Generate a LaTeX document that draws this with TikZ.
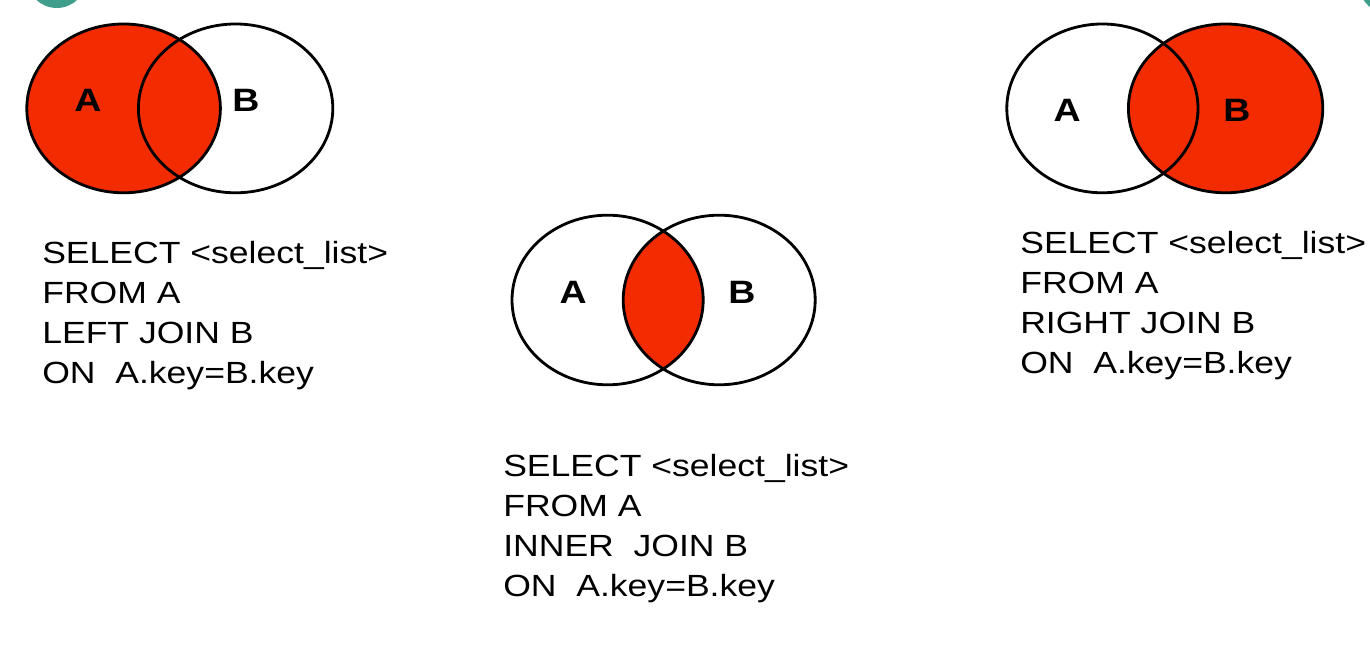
\documentclass[tikz,border=0pt]{standalone}
\usepackage{fontspec}
\setmainfont{Liberation Sans}
\newfontfamily\sqlfont[FakeStretch=1.16]{Liberation Sans}
\usetikzlibrary{positioning}
\definecolor{joinred}{HTML}{F32B00}
\definecolor{corner}{HTML}{3F9F8C}

\begin{document}
\begin{tikzpicture}[
      set/.style={draw=black, line width=2pt},
      setlabel/.style={font=\sqlfont\bfseries\fontsize{23}{26}\selectfont, inner sep=0pt},
      sql/.style={font=\sqlfont\fontsize{21.8}{28.45}\selectfont, align=left,
                  inner sep=0pt, anchor=north west}]
    \useasboundingbox (0,0) rectangle (34.25,16.2);
    % screen corners
    \begin{scope}
      \clip (0,0) rectangle (34.25,16.2);
      \fill[corner] (1.42,16.75) circle (0.75);
      \fill[corner] (35.0,16.85) circle (1.12);
    \end{scope}
    % left join
    \fill[joinred] (3.09,13.49) ellipse (2.42 and 2.11);
    \draw[set] (3.09,13.49) ellipse (2.42 and 2.11);
    \draw[set] (5.89,13.49) ellipse (2.43 and 2.11);
    \node[setlabel] (la) at (2.2,13.7) {A};
    \node[setlabel] (lb) at (6.15,13.68) {B};
    \node[sql] (lq) at (1.05,10.17)
      {SELECT {<}select\_list{>}\\FROM A\\LEFT JOIN B\\ON\ \ A.key=B.key};
    % inner join
    \begin{scope}
      \clip (15.19,8.7) ellipse (2.39 and 2.12);
      \fill[joinred] (17.98,8.7) ellipse (2.4 and 2.12);
    \end{scope}
    \draw[set] (15.19,8.7) ellipse (2.39 and 2.12);
    \draw[set] (17.98,8.7) ellipse (2.4 and 2.12);
    \node[setlabel] (ma) at (14.33,8.9) {A};
    \node[setlabel] (mb) at (18.55,8.9) {B};
    \node[sql] (mq) at (12.575,4.85)
      {SELECT {<}select\_list{>}\\FROM A\\INNER\ \ JOIN B\\ON\ \ A.key=B.key};
    % right join
    \fill[joinred] (30.64,13.49) ellipse (2.43 and 2.11);
    \draw[set] (27.56,13.49) ellipse (2.39 and 2.11);
    \draw[set] (30.64,13.49) ellipse (2.43 and 2.11);
    \node[setlabel] (ra) at (26.68,13.45) {A};
    \node[setlabel] (rb) at (30.92,13.45) {B};
    \node[sql] (rq) at (25.5,10.42)
      {SELECT {<}select\_list{>}\\FROM A\\RIGHT JOIN B\\ON\ \ A.key=B.key};
  \end{tikzpicture}
\end{document}
